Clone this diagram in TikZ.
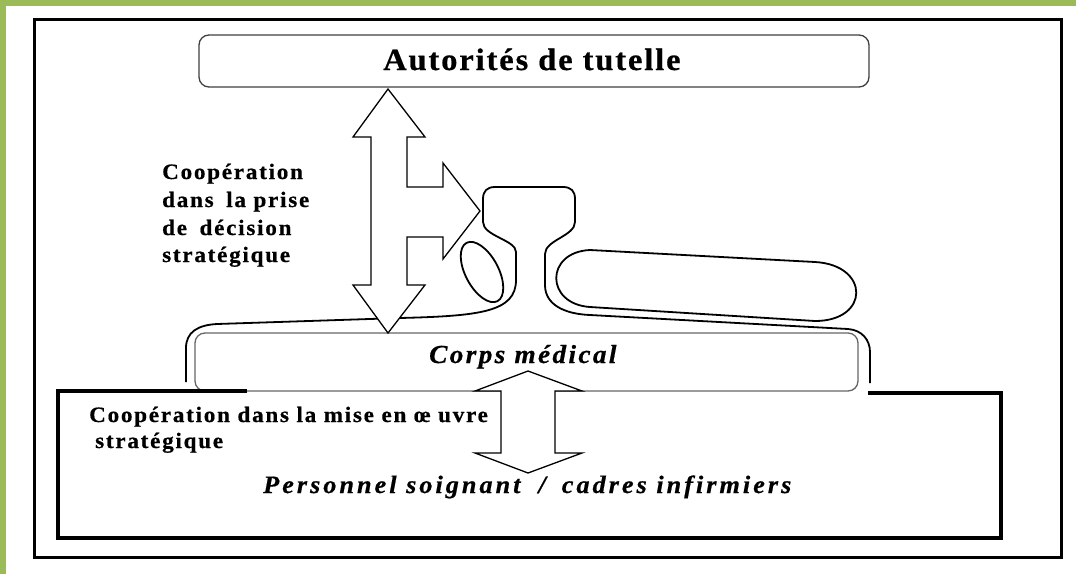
\documentclass[tikz,border=0pt]{standalone}
\usepackage{fontspec}
\setmainfont{Liberation Serif}
\newfontfamily\autfont[FakeStretch=1.05,LetterSpace=6,FakeBold=0.6]{Liberation Serif}
\newfontfamily\smfont[FakeStretch=1.05,LetterSpace=8,FakeBold=0.6]{Liberation Serif}
\newfontfamily\cmfont[FakeStretch=1.05,LetterSpace=9,FakeBold=0.6]{Liberation Serif}
\newfontfamily\psfont[FakeStretch=1.05,LetterSpace=12,FakeBold=0.6]{Liberation Serif}
\definecolor{gr}{HTML}{9BBB59}
\begin{document}
\begin{tikzpicture}[x=1pt,y=-1pt,
  thinbox/.style={draw=black!75, line width=1.3pt, rounded corners=10pt, inner sep=0pt, fill=white},
  arrowshape/.style={draw=black, fill=white, line width=1.3pt, line join=miter},
  curveline/.style={draw=black, line width=1.8pt},
  heavy/.style={draw=black, line width=3.5pt},
  lbl/.style={anchor=base west, inner sep=0pt, text=black},
  bsm/.style={font=\fontsize{22}{26}\smfont\bfseries}]
\fill[white] (0,0) rectangle (1076,574);
\useasboundingbox (0,0) rectangle (1076,574);
\fill[gr] (0,0) rectangle (1076,6);
\fill[gr] (0,0) rectangle (6,574);
\draw[line width=3pt] (34,19) rectangle (1061,557);
% outer curvy outline
\draw[curveline] (186,382) -- (186,348) .. controls (186,332) and (198,325) .. (217,324)
  -- (400,318) .. controls (480,316) and (516,312) .. (516,280) -- (516,252)
  .. controls (516,240) and (483,236) .. (483,222) -- (483,199)
  .. controls (483,191) and (487,187) .. (495,187) -- (563,187)
  .. controls (571,187) and (575,191) .. (575,199) -- (575,222)
  .. controls (575,236) and (545,240) .. (545,254) -- (545,285)
  .. controls (545,305) and (565,314) .. (590,315) -- (848,329)
  .. controls (862,330) and (870,340) .. (870,352) -- (870,383);
% pill
\draw[curveline] (590,250) -- (815,262) .. controls (870,265) and (870,321) .. (815,321)
  -- (590,307) .. controls (545,304) and (545,252) .. (590,250) -- cycle;
% small ellipse
\draw[curveline] (482,272) ellipse [x radius=33, y radius=16.5, rotate=-62];
% boxes
\node[thinbox, minimum width=670pt, minimum height=52pt] (aut) at (534,61) {};
\node[thinbox, draw=black!60, minimum width=663pt, minimum height=58pt] (cm) at (526.5,362) {};
\draw[heavy] (247,391) -- (58,391) -- (58,538) -- (1001,538) -- (1001,393) -- (868,393);
% arrows
\draw[arrowshape] (388,89) -- (425,137) -- (407,137) -- (407,187) -- (443,187) -- (443,163)
  -- (480,211) -- (443,259) -- (443,237) -- (407,237) -- (407,285) -- (425,285)
  -- (388,333) -- (353,285) -- (371,285) -- (371,137) -- (353,137) -- cycle;
\draw[arrowshape] (528,371) -- (582,391) -- (555,391) -- (555,453) -- (582,453)
  -- (528,473) -- (475,453) -- (501,453) -- (501,391) -- (475,391) -- cycle;
% texts
\node[lbl, font=\fontsize{31}{37}\autfont\bfseries] (autt) at (383,70) {Autorités de tutelle};
\node[lbl, bsm] (c1) at (162,179) {Coopération};
\node[lbl, bsm] (c2) at (162,207) {dans\hspace{5pt} la prise};
\node[lbl, bsm] (c3) at (162,235) {de\hspace{5pt} décision};
\node[lbl, bsm] (c4) at (162,262) {stratégique};
\node[lbl, font=\fontsize{26}{31}\cmfont\bfseries\itshape] (cmt) at (429,363) {Corps médical};
\node[lbl, bsm] (m1) at (89,422) {Coopération dans la mise en œ uvre};
\node[lbl, bsm] (m2) at (95,448) {stratégique};
\node[lbl, font=\fontsize{25}{30}\psfont\bfseries\itshape] (ps) at (263,493) {Personnel soignant\hspace{18pt}/\hspace{16pt}cadres infirmiers};
\end{tikzpicture}
\end{document}
